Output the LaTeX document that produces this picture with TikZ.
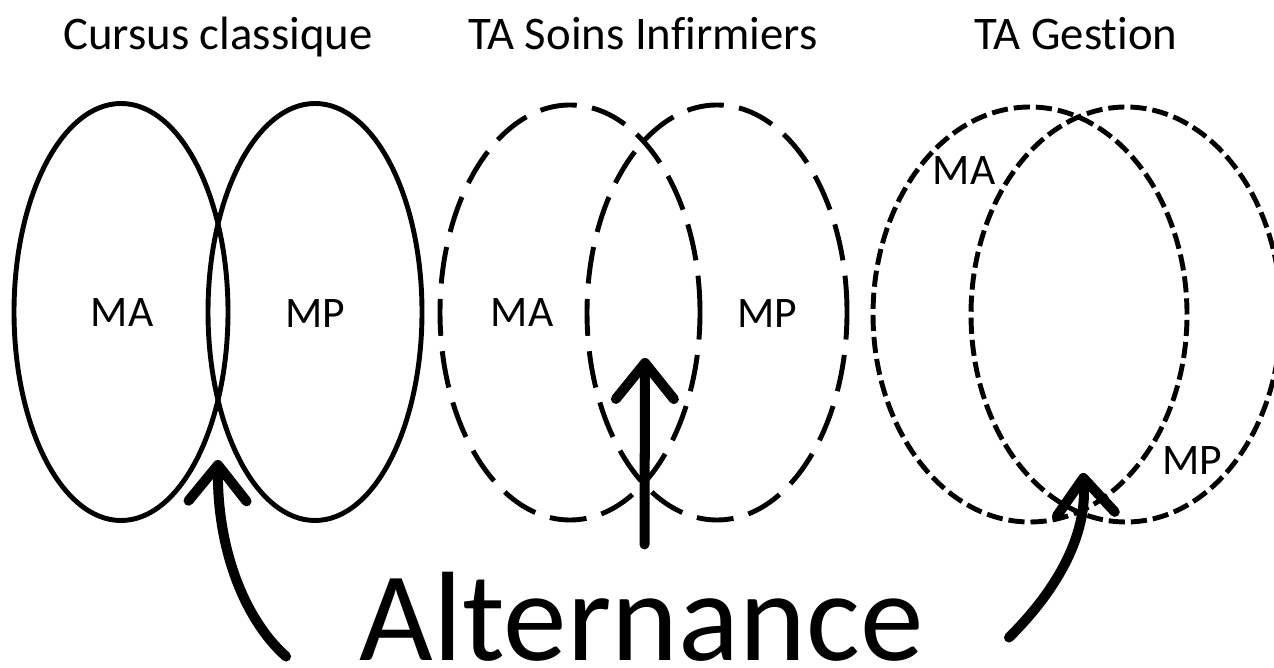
\documentclass[tikz,border=0pt]{standalone}
\usepackage{fontspec}
\setmainfont{Carlito}[Ligatures=NoCommon]
\usetikzlibrary{shapes.geometric,arrows.meta}

\tikzset{
  set/.style={draw, ellipse, inner sep=0pt, line width=1.4pt},
  longdash/.style={dash pattern=on 10.5pt off 4.4pt},
  shortdash/.style={dash pattern=on 4.6pt off 1.7pt},
  heading/.style={anchor=base, inner sep=0pt, font=\fontsize{13.3}{15}\selectfont},
  lbl/.style={inner sep=0pt, font=\fontsize{12.4}{14}\selectfont},
  bigarrow/.style={line width=2.85pt, line cap=round,
    -{Straight Barb[length=0.36cm, width=0.58cm, round]}},
}

\begin{document}
\begin{tikzpicture}
        \useasboundingbox (0,0) rectangle (12.74,-6.68);

        % Titres
        \node [heading] (cc) at (2.18,-0.50) {Cursus classique};
        \node [heading] (tasi) at (6.43,-0.50) {TA Soins Infirmiers};
        \node [heading] (tag) at (10.76,-0.50) {TA Gestion};

        % Ensembles
        \node [set, minimum width=2.14cm, minimum height=4.17cm] (ma1) at (1.21,-3.12) {};
        \node [set, minimum width=2.14cm, minimum height=4.17cm] (mp1) at (3.15,-3.12) {};
        \node [set, longdash, minimum width=2.60cm, minimum height=4.15cm] (ma2) at (5.70,-3.125) {};
        \node [set, longdash, minimum width=2.60cm, minimum height=4.15cm] (mp2) at (7.17,-3.125) {};
        \node [set, shortdash, minimum width=3.14cm, minimum height=4.15cm] (ma3) at (10.30,-3.145) {};
        \node [set, shortdash, minimum width=3.10cm, minimum height=4.15cm] (mp3) at (11.26,-3.145) {};

        % Etiquettes
        \node [lbl] (lma1) at (1.22,-3.13) {MA};
        \node [lbl] (lmp1) at (3.15,-3.14) {MP};
        \node [lbl] (lma2) at (5.22,-3.13) {MA};
        \node [lbl] (lmp2) at (7.67,-3.14) {MP};
        \node [lbl] (lma3) at (9.64,-1.71) {MA};
        \node [lbl] (lmp3) at (11.92,-4.61) {MP};

        % Alternance
        \node [anchor=base, inner sep=0pt, font=\fontsize{36.2}{42}\selectfont] (alt) at (6.415,-6.60) {Alternance};

        % Pointes
        \coordinate (tipA) at (2.18,-4.60);
        \coordinate (tipB) at (6.45,-3.58);
        \coordinate (tipC) at (10.83,-4.73);

        % Fleches
        \draw [bigarrow] ([xshift=-0.73cm, yshift=0.035cm]alt.base west) .. controls (2.45,-6.20) and (2.17,-5.50) .. (tipA);
        \draw [bigarrow] ([xshift=0.03cm, yshift=0.265cm]alt.north) -- (tipB);
        \draw [bigarrow] ([xshift=0.85cm, yshift=0.225cm]alt.base east) .. controls (10.45,-6.02) and (10.88,-5.45) .. (tipC);
\end{tikzpicture}
\end{document}
